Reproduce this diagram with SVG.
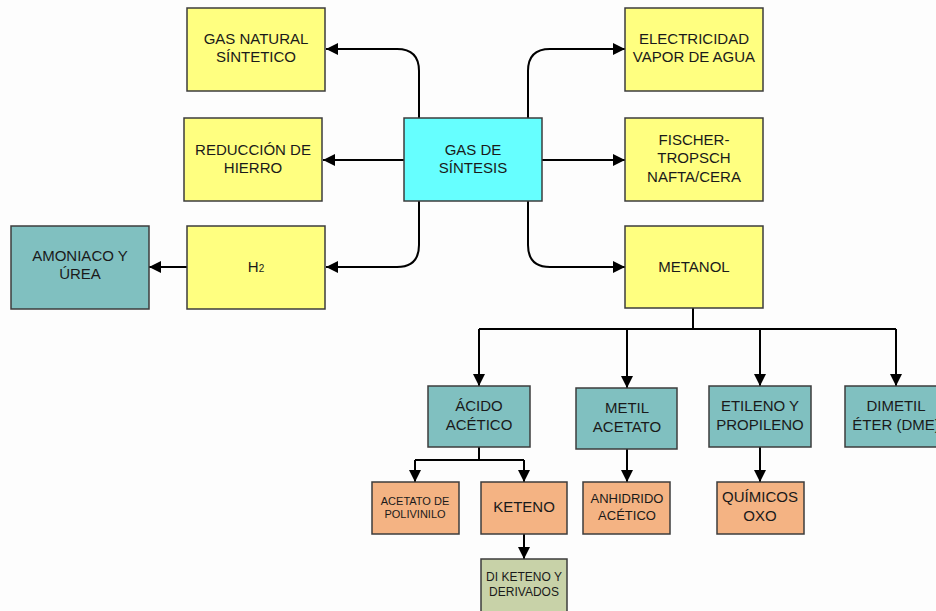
<svg xmlns="http://www.w3.org/2000/svg" width="936" height="611" viewBox="0 0 936 611">
  <style>
    .box { stroke: #3c3c3c; stroke-width: 1.5; }
    .yel { fill: #FFFF80; }
    .cyan { fill: #66FFFF; }
    .teal { fill: #80C0C0; }
    .org { fill: #F4B383; }
    .grn { fill: #C8D2A8; }
    text { font-family: "Liberation Sans", Arial, sans-serif; fill: #1a1a1a; text-anchor: middle; }
    .t15 { font-size: 15px; }
    .t13 { font-size: 13px; }
    .t11 { font-size: 11px; }
    .t12 { font-size: 12px; }
    .wire { fill: none; stroke: #000; stroke-width: 2; marker-end: url(#arr); }
    .bare { fill: none; stroke: #000; stroke-width: 2; }
  </style>
  <defs>
    <marker id="arr" markerUnits="userSpaceOnUse" markerWidth="12" markerHeight="12" refX="12" refY="6" orient="auto">
      <path d="M0,0 L12,6 L0,12 z" fill="#000"/>
    </marker>
  </defs>
  <rect width="936" height="611" fill="#fdfdfd"/>

  <g id="connectors">
    <!-- syngas to the left column -->
    <path class="wire" d="M419,118 V71 Q419,49 397,49 H326"/>
    <path class="wire" d="M404,160 H323"/>
    <path class="wire" d="M419,201 V245 Q419,267 397,267 H326"/>
    <!-- syngas to the right column -->
    <path class="wire" d="M528,118 V71 Q528,49 550,49 H625"/>
    <path class="wire" d="M542,160 H625"/>
    <path class="wire" d="M528,201 V245 Q528,267 550,267 H625"/>
    <!-- H2 to ammonia -->
    <path class="wire" d="M187,267 H149"/>
    <!-- methanol bus -->
    <path class="bare" d="M693,308 V329 M479,329 H896"/>
    <path class="wire" d="M479,329 V386"/>
    <path class="wire" d="M627,329 V388"/>
    <path class="wire" d="M760,329 V386"/>
    <path class="wire" d="M896,329 V386"/>
    <!-- acetic acid branches -->
    <path class="bare" d="M479,447 V460 M415,460 H524"/>
    <path class="wire" d="M415,460 V482"/>
    <path class="wire" d="M524,460 V482"/>
    <path class="wire" d="M627,449 V482"/>
    <path class="wire" d="M760,447 V482"/>
    <path class="wire" d="M524,534 V559"/>
  </g>

  <g id="gas-natural">
    <rect class="box yel" x="187" y="8" width="138" height="83"/>
    <text class="t15" x="256" y="44">GAS NATURAL</text>
    <text class="t15" x="256" y="62">SÍNTETICO</text>
  </g>
  <g id="reduccion">
    <rect class="box yel" x="184" y="118" width="138" height="83"/>
    <text class="t15" x="253" y="155">REDUCCIÓN DE</text>
    <text class="t15" x="253" y="173">HIERRO</text>
  </g>
  <g id="h2">
    <rect class="box yel" x="187" y="226" width="138" height="83"/>
    <text class="t15" x="256" y="272">H<tspan font-size="10">2</tspan></text>
  </g>
  <g id="amoniaco">
    <rect class="box teal" x="11" y="226" width="138" height="83"/>
    <text class="t15" x="80" y="261">AMONIACO Y</text>
    <text class="t15" x="80" y="279">ÚREA</text>
  </g>
  <g id="gas-sintesis">
    <rect class="box cyan" x="404" y="118" width="138" height="83"/>
    <text class="t15" x="473" y="155">GAS DE</text>
    <text class="t15" x="473" y="173">SÍNTESIS</text>
  </g>
  <g id="electricidad">
    <rect class="box yel" x="625" y="8" width="138" height="83"/>
    <text class="t15" x="694" y="44">ELECTRICIDAD</text>
    <text class="t15" x="694" y="62">VAPOR DE AGUA</text>
  </g>
  <g id="fischer">
    <rect class="box yel" x="625" y="118" width="138" height="83"/>
    <text class="t15" x="694" y="145">FISCHER-</text>
    <text class="t15" x="694" y="163">TROPSCH</text>
    <text class="t15" x="694" y="182">NAFTA/CERA</text>
  </g>
  <g id="metanol">
    <rect class="box yel" x="625" y="226" width="138" height="82"/>
    <text class="t15" x="694" y="272">METANOL</text>
  </g>
  <g id="acido">
    <rect class="box teal" x="428" y="386" width="102" height="61"/>
    <text class="t15" x="479" y="411">ÁCIDO</text>
    <text class="t15" x="479" y="430">ACÉTICO</text>
  </g>
  <g id="metil">
    <rect class="box teal" x="576" y="388" width="101" height="61"/>
    <text class="t15" x="627" y="413">METIL</text>
    <text class="t15" x="627" y="432">ACETATO</text>
  </g>
  <g id="etileno">
    <rect class="box teal" x="709" y="386" width="102" height="61"/>
    <text class="t15" x="760" y="411">ETILENO Y</text>
    <text class="t15" x="760" y="430">PROPILENO</text>
  </g>
  <g id="dimetil">
    <rect class="box teal" x="845" y="386" width="102" height="61"/>
    <text class="t15" x="896" y="411">DIMETIL</text>
    <text class="t15" x="896" y="430">ÉTER (DME)</text>
  </g>
  <g id="acetato-polivinilo">
    <rect class="box org" x="372" y="482" width="87" height="52"/>
    <text class="t11" x="415" y="505">ACETATO DE</text>
    <text class="t11" x="415" y="518">POLIVINILO</text>
  </g>
  <g id="keteno">
    <rect class="box org" x="481" y="482" width="86" height="52"/>
    <text class="t15" x="524" y="512">KETENO</text>
  </g>
  <g id="anhidrido">
    <rect class="box org" x="583" y="482" width="87" height="52"/>
    <text class="t13" x="627" y="503">ANHIDRIDO</text>
    <text class="t13" x="627" y="520">ACÉTICO</text>
  </g>
  <g id="quimicos-oxo">
    <rect class="box org" x="717" y="482" width="87" height="52"/>
    <text class="t15" x="760" y="502">QUÍMICOS</text>
    <text class="t15" x="760" y="521">OXO</text>
  </g>
  <g id="diketeno">
    <rect class="box grn" x="481" y="559" width="86" height="56"/>
    <text class="t12" x="524" y="581">DI KETENO Y</text>
    <text class="t12" x="524" y="596">DERIVADOS</text>
  </g>
</svg>
